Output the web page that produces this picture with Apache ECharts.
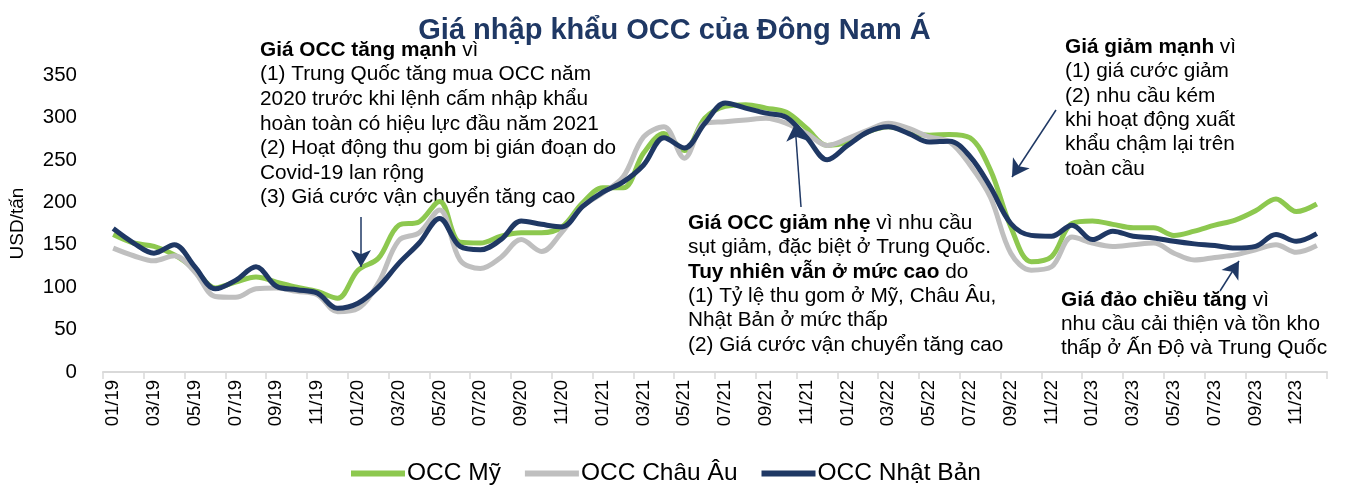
<!DOCTYPE html>
<html lang="vi">
<head>
<meta charset="UTF-8">
<title>Giá nhập khẩu OCC của Đông Nam Á</title>
<script src="https://cdn.jsdelivr.net/npm/echarts@6/dist/echarts.min.js"></script>
<style>
    html, body { margin: 0; padding: 0; background: #fff; }
    #box { width: 1349px; height: 486px; }
</style>
</head>
<body>
<div id="box"></div>
<script>
// du lieu: gia theo thang 01/19 -> 12/23 (USD/tan)
var months = [
    '01/19','02/19','03/19','04/19','05/19','06/19','07/19','08/19','09/19','10/19','11/19','12/19',
    '01/20','02/20','03/20','04/20','05/20','06/20','07/20','08/20','09/20','10/20','11/20','12/20',
    '01/21','02/21','03/21','04/21','05/21','06/21','07/21','08/21','09/21','10/21','11/21','12/21',
    '01/22','02/22','03/22','04/22','05/22','06/22','07/22','08/22','09/22','10/22','11/22','12/22',
    '01/23','02/23','03/23','04/23','05/23','06/23','07/23','08/23','09/23','10/23','11/23','12/23'
];
var occMy = [
    162, 152, 148, 138, 121, 99, 106, 112, 106, 100, 95, 87,
    120, 134, 173, 177, 201, 153, 152, 160, 164, 164, 171, 199,
    217, 217, 258, 281, 261, 299, 313, 315, 311, 306, 287, 267,
    271, 283, 289, 283, 279, 280, 276, 238, 171, 130, 136, 175,
    178, 174, 170, 170, 161, 166, 173, 179, 190, 204, 189, 198
];
var occChauAu = [
    146, 137, 131, 137, 118, 89, 88, 98, 99, 95, 91, 71,
    75, 105, 155, 164, 191, 132, 122, 135, 156, 142, 165, 195,
    211, 230, 277, 289, 252, 293, 295, 297, 299, 293, 281, 267,
    275, 285, 293, 287, 277, 271, 244, 206, 140, 120, 124, 159,
    152, 148, 150, 152, 140, 132, 135, 138, 144, 150, 141, 149
];
var occNhatBan = [
    169, 152, 140, 150, 124, 98, 108, 124, 101, 97, 93, 75,
    81, 100, 128, 152, 181, 148, 144, 156, 178, 174, 171, 195,
    212, 224, 244, 276, 264, 293, 317, 311, 305, 300, 276, 250,
    267, 283, 289, 281, 271, 272, 254, 218, 175, 161, 160, 173,
    156, 166, 160, 158, 154, 151, 149, 146, 148, 162, 154, 163
];
var yTicks = { min: 0, max: 350, step: 50 };

// ghi chu tren bieu do
var notes = [
    { x: 260, y: 50, gap: 24.6, lines: [
        '{b|Giá OCC tăng mạnh} vì',
        '(1) Trung Quốc tăng mua OCC năm',
        '2020 trước khi lệnh cấm nhập khẩu',
        'hoàn toàn có hiệu lực đầu năm 2021',
        '(2) Hoạt động thu gom bị gián đoạn do',
        'Covid-19 lan rộng',
        '(3) Giá cước vận chuyển tăng cao'
    ]},
    { x: 688, y: 223, gap: 24.4, lines: [
        '{b|Giá OCC giảm nhẹ} vì nhu cầu',
        'sụt giảm, đặc biệt ở Trung Quốc.',
        '{b|Tuy nhiên vẫn ở mức cao} do',
        '(1) Tỷ lệ thu gom ở Mỹ, Châu Âu,',
        'Nhật Bản ở mức thấp',
        '(2) Giá cước vận chuyển tăng cao'
    ]},
    { x: 1065, y: 47, gap: 24.4, lines: [
        '{b|Giá giảm mạnh} vì',
        '(1) giá cước giảm',
        '(2) nhu cầu kém',
        'khi hoạt động xuất',
        'khẩu chậm lại trên',
        'toàn cầu'
    ]},
    { x: 1061, y: 300, gap: 24.2, lines: [
        '{b|Giá đảo chiều tăng} vì',
        'nhu cầu cải thiện và tồn kho',
        'thấp ở Ấn Độ và Trung Quốc'
    ]}
];

var FONT = 'Arial, "Liberation Sans", sans-serif';
var NAVY = '#1F3864';

var graphics = [];
notes.forEach(function (n) {
    n.lines.forEach(function (t, i) {
        graphics.push({
            type: 'text',
            x: n.x,
            y: n.y + i * n.gap,
            silent: true,
            style: {
                text: t,
                fill: '#000',
                fontSize: 20.8,
                fontFamily: FONT,
                verticalAlign: 'middle',
                rich: {
                    b: { fontSize: 20.8, fontFamily: FONT, fontWeight: 'bold', fill: '#000' }
                }
            }
        });
    });
});

// mui ten
var arrows = [
    [{ x: 361, y: 217 }, { x: 361, y: 267 }],
    [{ x: 801, y: 207 }, { x: 795, y: 124 }],
    [{ x: 1056, y: 110 }, { x: 1012, y: 177 }],
    [{ x: 1220, y: 291 }, { x: 1239, y: 261 }]
];

var myChart = echarts.init(document.getElementById('box'));

var option = {
    animation: false,
    title: {
        text: 'Giá nhập khẩu OCC của Đông Nam Á',
        left: 'center',
        top: 11,
        textStyle: { color: NAVY, fontSize: 29, fontWeight: 'bold', fontFamily: FONT }
    },
    color: ['#8DC84F', '#BFBFBF', NAVY],
    legend: {
        left: 346,
        top: 456,
        itemWidth: 54,
        itemHeight: 6,
        itemGap: 24,
        icon: 'rect',
        textStyle: { color: '#000', fontSize: 24.5, fontFamily: FONT, padding: [0, 0, 0, -3] },
        data: ['OCC Mỹ', 'OCC Châu Âu', 'OCC Nhật Bản']
    },
    grid: { left: 103, right: 22, top: 75, bottom: 114 },
    xAxis: {
        type: 'category',
        data: months,
        boundaryGap: true,
        axisLine: { lineStyle: { color: '#D9D9D9', width: 2 } },
        axisTick: { show: true, interval: 1, length: 7, lineStyle: { color: '#D9D9D9', width: 1.5 } },
        axisLabel: { interval: 1, rotate: 90, fontSize: 18.5, color: '#000', fontFamily: FONT, margin: 8 }
    },
    yAxis: {
        type: 'value',
        min: yTicks.min,
        max: yTicks.max,
        interval: yTicks.step,
        name: 'USD/tấn',
        nameLocation: 'middle',
        nameRotate: 90,
        nameGap: 76,
        nameTextStyle: { fontSize: 19, color: '#000', fontFamily: FONT },
        axisLine: { show: false },
        axisTick: { show: false },
        splitLine: { show: false },
        axisLabel: { fontSize: 20.5, color: '#000', fontFamily: FONT, margin: 26 }
    },
    series: [
        {
            name: 'OCC Mỹ',
            type: 'line',
            data: occMy,
            smooth: 0.35,
            showSymbol: false,
            lineStyle: { width: 5 }
        },
        {
            name: 'OCC Châu Âu',
            type: 'line',
            data: occChauAu,
            smooth: 0.35,
            showSymbol: false,
            lineStyle: { width: 5 }
        },
        {
            name: 'OCC Nhật Bản',
            type: 'line',
            data: occNhatBan,
            smooth: 0.35,
            showSymbol: false,
            lineStyle: { width: 5 },
            markLine: {
                silent: true,
                symbol: ['none', 'arrow'],
                symbolSize: [15, 17],
                label: { show: false },
                lineStyle: { color: NAVY, width: 1.5, type: 'solid' },
                data: arrows
            }
        }
    ],
    graphic: graphics
};

myChart.setOption(option);

window.addEventListener('resize', function () {
    myChart.resize();
});
</script>
</body>
</html>
